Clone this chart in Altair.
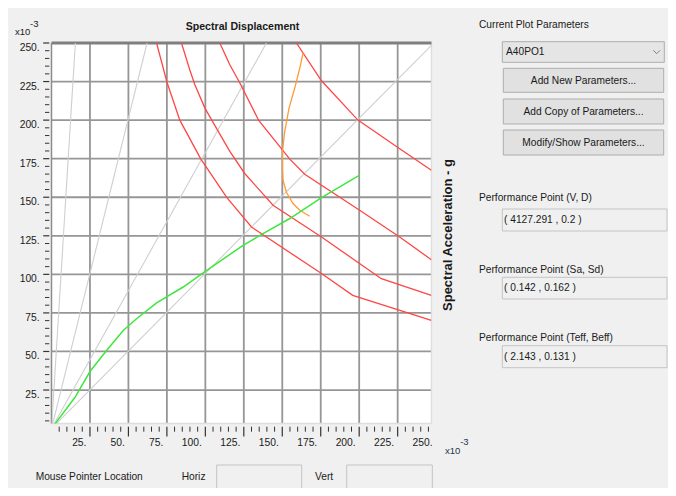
import altair as alt
import pandas as pd

# ---------------- data (units of x10^-3) ----------------
W, H = 380, 380.5
X_DOMAIN = [0, 247]
Y_DOMAIN = [3.3, 250]

grid_x = [25, 50, 75, 100, 125, 150, 175, 200, 225]
grid_y = [25, 50, 75, 100, 125, 150, 175, 200, 225]
major_ticks_x = [25, 50, 75, 100, 125, 150, 175, 200, 225]
major_ticks_y = [25, 50, 75, 100, 125, 150, 175, 200, 225, 250]
label_vals = [25, 50, 75, 100, 125, 150, 175, 200, 225, 250]
minor_ticks = [5, 10, 15, 20, 30, 35, 40, 45, 55, 60, 65, 70, 80, 85, 90, 95,
               105, 110, 115, 120, 130, 135, 140, 145, 155, 160, 165, 170,
               180, 185, 190, 195, 205, 210, 215, 220, 230, 235, 240, 245]

# constant period lines (T = 0.5, 1.0, 1.5, 2.0 s): Sd where Sa reaches 250e-3
period_T = [0.5, 1.0, 1.5, 2.0]
period_x_top = [15.5, 62.1, 139.7, 248.5]

# demand spectra (red)
r1_x = [68.3, 75.0, 83.4, 97.1, 114.0, 130.0, 175.5, 195.8, 246.9]
r1_y = [250, 224.7, 200, 174.7, 149.7, 130.7, 100.5, 86.4, 70.1]
r2_x = [84.5, 89.9, 93.2, 99.7, 108.3, 115.9, 125.6, 144.0, 175.5, 214.4, 246.9]
r2_y = [250, 232.5, 222.9, 207.8, 192.9, 179.7, 165.4, 144.8, 124.2, 97.2, 86.4]
r3_x = [109.4, 115.9, 122.1, 134.7, 154.9, 164.6, 200.3, 226.3, 246.9]
r3_y = [250, 235.9, 224.7, 199.8, 174.7, 164.9, 141.6, 124.2, 109.5]
r4_x = [159.2, 175.5, 199.2, 224.2, 246.9]
r4_y = [250, 225.5, 200, 182.9, 167.5]

# performance point locus (orange)
o_x = [163.5, 161.4, 158.1, 154.4, 151.6, 150.1, 150.1, 150.5, 152.7, 157.0, 161.4, 167.9]
o_y = [243.5, 233.8, 220.8, 207.8, 192.7, 179.7, 168.8, 161.0, 153.2, 145.9, 141.6, 137.7]

# capacity curve (green)
g_x = [0, 15.3, 25.0, 35.8, 46.6, 55.3, 68.3, 85.6, 98.6, 124.5, 137.5, 154.9, 175.5, 200.3]
g_y = [0, 20.3, 37.0, 50.6, 63.6, 71.2, 81.5, 91.8, 101.0, 118.8, 126.4, 136.2, 149.8, 164.3]

# texts
title_text = "Spectral Displacement"
ytitle_text = "Spectral Acceleration - g"
panel_heading = "Current Plot Parameters"
combo_value = "A40PO1"
button_texts = ["Add New Parameters...", "Add Copy of Parameters...", "Modify/Show Parameters..."]
pp_labels = ["Performance Point (V, D)", "Performance Point (Sa, Sd)", "Performance Point (Teff, Beff)"]
pp_values = ["( 4127.291 , 0.2 )", "( 0.142 , 0.162 )", "( 2.143 , 0.131 )"]
bottom_texts = ["Mouse Pointer Location", "Horiz", "Vert"]

# ---------------- helpers ----------------
FONT = "Liberation Sans, Arial, sans-serif"
UI = 10.2
xs = alt.Scale(domain=X_DOMAIN, nice=False, zero=False)
ys = alt.Scale(domain=Y_DOMAIN, nice=False, zero=False)


def X(f="x"):
    return alt.X(f, type="quantitative", scale=xs, axis=None)


def Y(f="y"):
    return alt.Y(f, type="quantitative", scale=ys, axis=None)


def curve_df(name, xv, yv):
    return pd.DataFrame({"c": name, "x": xv, "y": yv, "i": list(range(len(xv)))})


def text_at(s, x, y, size=UI, align="left", weight="normal", angle=0, color="#1a1a1a"):
    return alt.Chart(pd.DataFrame({"t": [s]})).mark_text(
        align=align, baseline="middle", fontSize=size, font=FONT, fontWeight=weight,
        angle=angle, color=color
    ).encode(x=alt.value(x), y=alt.value(y), text="t:N")


def rect_at(x1, x2, y1, y2, fill, stroke, sw=1):
    return alt.Chart(pd.DataFrame({"a": [0]})).mark_rect(
        fill=fill, stroke=stroke, strokeWidth=sw
    ).encode(x=alt.value(x1), x2=alt.value(x2), y=alt.value(y1), y2=alt.value(y2))


layers = []

# grid
GRID = "#969696"
layers.append(alt.Chart(pd.DataFrame({"x": grid_x})).mark_rule(color=GRID, strokeWidth=1.8)
              .encode(x=X(), y=alt.value(0), y2=alt.value(H)))
layers.append(alt.Chart(pd.DataFrame({"y": grid_y})).mark_rule(color=GRID, strokeWidth=1.8)
              .encode(y=Y(), x=alt.value(0), x2=alt.value(W)))
# frame edges
layers.append(alt.Chart(pd.DataFrame({"y": [Y_DOMAIN[0]]})).mark_rule(color="#dedede", strokeWidth=1.5)
              .encode(y=Y(), x=alt.value(0), x2=alt.value(W)))
layers.append(alt.Chart(pd.DataFrame({"x": [X_DOMAIN[1]]})).mark_rule(color="#dedede", strokeWidth=1.5)
              .encode(x=X(), y=alt.value(0), y2=alt.value(H)))
layers.append(alt.Chart(pd.DataFrame({"x": [X_DOMAIN[0]]})).mark_rule(color="#8c8c8c", strokeWidth=1.5)
              .encode(x=X(), y=alt.value(0), y2=alt.value(H)))
layers.append(alt.Chart(pd.DataFrame({"y": [250]})).mark_rule(color="#7f7f7f", strokeWidth=3.2)
              .encode(y=Y(), x=alt.value(0), x2=alt.value(W)))

# period lines
pdf = pd.concat([pd.DataFrame({"c": [str(t), str(t)], "x": [0, xe], "y": [0, 250], "i": [0, 1]})
                 for t, xe in zip(period_T, period_x_top)])
layers.append(alt.Chart(pdf).mark_line(clip=True, color="#cfcfcf", strokeWidth=1.1)
              .encode(x=X(), y=Y(), detail="c:N", order="i:Q"))

# demand curves
rdf = pd.concat([curve_df("r1", r1_x, r1_y), curve_df("r2", r2_x, r2_y),
                 curve_df("r3", r3_x, r3_y), curve_df("r4", r4_x, r4_y)])
layers.append(alt.Chart(rdf).mark_line(clip=True, color="#ff4646", strokeWidth=1.3)
              .encode(x=X(), y=Y(), detail="c:N", order="i:Q"))
layers.append(alt.Chart(curve_df("o", o_x, o_y)).mark_line(clip=True, color="#ff9a36", strokeWidth=1.3)
              .encode(x=X(), y=Y(), order="i:Q"))
layers.append(alt.Chart(curve_df("g", g_x, g_y)).mark_line(clip=True, color="#3fe63f", strokeWidth=1.5)
              .encode(x=X(), y=Y(), order="i:Q"))

# ticks
TICK = "#333333"
layers.append(alt.Chart(pd.DataFrame({"x": minor_ticks})).mark_rule(color=TICK, strokeWidth=1)
              .encode(x=X(), y=alt.value(H + 3.2), y2=alt.value(H + 8.2)))
layers.append(alt.Chart(pd.DataFrame({"x": major_ticks_x})).mark_rule(color=TICK, strokeWidth=1.2)
              .encode(x=X(), y=alt.value(H + 3.2), y2=alt.value(H + 13)))
layers.append(alt.Chart(pd.DataFrame({"y": minor_ticks})).mark_rule(color=TICK, strokeWidth=1)
              .encode(y=Y(), x=alt.value(-6.5), x2=alt.value(-2.2)))
layers.append(alt.Chart(pd.DataFrame({"y": major_ticks_y})).mark_rule(color=TICK, strokeWidth=1.2)
              .encode(y=Y(), x=alt.value(-8.3), x2=alt.value(-2.2)))

# tick labels
ldf = pd.DataFrame({"v": label_vals, "t": [f"{v}." for v in label_vals]})
layers.append(alt.Chart(ldf).mark_text(align="right", baseline="middle", dx=-3.5, fontSize=10.3,
                                        font=FONT, color="#1a1a1a")
              .encode(x=X("v"), y=alt.value(400), text="t:N"))
layers.append(alt.Chart(ldf).mark_text(align="right", baseline="middle", dy=5, fontSize=10.3,
                                        font=FONT, color="#1a1a1a")
              .encode(y=Y("v"), x=alt.value(-11.8), text="t:N"))

# multipliers
layers.append(text_at("x10", -36.5, -11.5, size=9.5))
layers.append(text_at("-3", -21.5, -19.5, size=9.5))
layers.append(text_at("x10", 393.5, 408, size=9.5, color="#2a3550"))
layers.append(text_at("-3", 408.7, 398.5, size=9.5, color="#2a3550"))

# titles
layers.append(text_at(title_text, 191, -16.3, size=10.6, align="center", weight="bold"))
layers.append(text_at(ytitle_text, 396.5, 192, size=13, align="center",
                      weight="bold", angle=270))

# right panel
layers.append(text_at(panel_heading, 427.5, -18))
layers.append(rect_at(450.8, 612.8, -1.3, 19.3, "#e5e5e5", "#adadad"))
layers.append(text_at(combo_value, 454.5, 8.7))
layers.append(alt.Chart(pd.DataFrame({"a": [0]})).mark_point(
    shape="M-1,-0.5L0,0.5L1,-0.5", size=45, filled=False, color="#555555", strokeWidth=1)
    .encode(x=alt.value(605.2), y=alt.value(9)))
btn_y = [(25.3, 49.3), (56, 81), (87, 112)]
for (b1, b2), bt in zip(btn_y, button_texts):
    layers.append(rect_at(451.8, 612.2, b1, b2, "#e1e1e1", "#adadad"))
    layers.append(text_at(bt, 532, (b1 + b2) / 2 + 0.5, align="center"))
pp_label_y = [155.3, 227, 295.3]
pp_box_y = [(166, 188), (234.3, 256), (302.7, 324.7)]
for ly, (b1, b2), lt, vt in zip(pp_label_y, pp_box_y, pp_labels, pp_values):
    layers.append(text_at(lt, 427.5, ly))
    layers.append(rect_at(450.8, 615.5, b1, b2, "#f0f0f0", "#c4c4c4"))
    layers.append(text_at(vt, 452.5, (b1 + b2) / 2))

# bottom bar
layers.append(text_at(bottom_texts[0], -15.8, 433.7))
layers.append(text_at(bottom_texts[1], 130.2, 433.7))
layers.append(rect_at(165.2, 250.2, 422, 446, "#f0f0f0", "#c4c4c4"))
layers.append(text_at(bottom_texts[2], 263.5, 433.7))
layers.append(rect_at(295.2, 380.8, 422, 446, "#f0f0f0", "#c4c4c4"))

chart = alt.layer(*layers).properties(
    width=W, height=H,
    padding={"left": 43.5, "top": 35, "right": 236.5, "bottom": 64},
    autosize=alt.AutoSizeParams(type="none"),
    background="#f0f0f0",
).configure_view(fill="white", stroke=None)

chart.save("out.html", embed_options={"renderer": "svg", "actions": False})
